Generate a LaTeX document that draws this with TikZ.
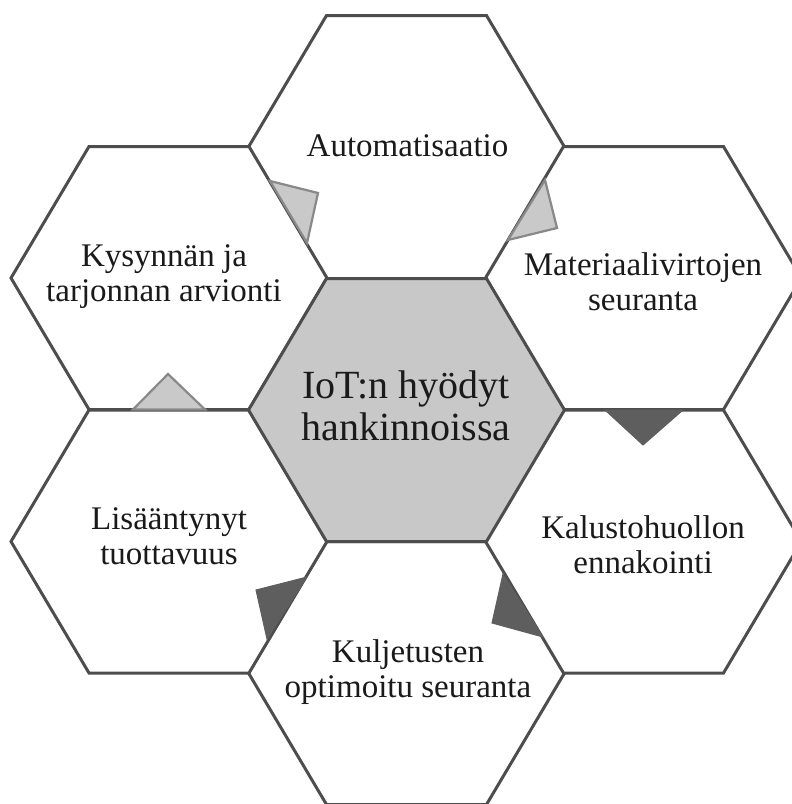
\documentclass[tikz,border=0pt]{standalone}
\usepackage{fontspec}
\setmainfont{Liberation Serif}
\definecolor{hexline}{HTML}{4D4D4D}
\definecolor{corefill}{HTML}{C8C8C8}
\definecolor{flaglightfill}{HTML}{C9C9C9}
\definecolor{flagedge}{HTML}{898989}
\definecolor{flagdarkfill}{HTML}{5E5E5E}
\definecolor{textcol}{HTML}{1A1A1A}
\begin{document}
\begin{tikzpicture}[x=1pt,y=-1pt,
  hexcell/.style={draw=hexline,line width=3pt,line join=miter,fill=white},
  hexcore/.style={hexcell,fill=corefill},
  flaglight/.style={draw=flagedge,fill=flaglightfill,line width=2.2pt,line join=miter},
  flagdark/.style={draw=flagdarkfill,fill=flagdarkfill,line width=1pt,line join=miter},
  cell/.style={align=center,font=\fontsize{33}{35}\selectfont,text=textcol,inner sep=0pt},
  core/.style={cell,font=\fontsize{40}{42}\selectfont}]
\useasboundingbox (0,0) rectangle (792,804);
\clip (0,0) rectangle (792,804);

% centres of the seven cells
\coordinate (hexC)  at (406.5,410);
\coordinate (hexT)  at (406.5,147);
\coordinate (hexB)  at (406.5,673);
\coordinate (hexTL) at (169,278);
\coordinate (hexBL) at (169,541.5);
\coordinate (hexTR) at (643.5,278);
\coordinate (hexBR) at (643.5,541.5);

% outer cells
\foreach \h in {hexT,hexB,hexTL,hexBL,hexTR,hexBR}
  \draw[hexcell,shift={(\h)}] (-158,0) -- (-80,-131.5) -- (80,-131.5)
    -- (158,0) -- (80,131.5) -- (-80,131.5) -- cycle;
% central cell
\draw[hexcore,shift={(hexC)}] (-158,0) -- (-80,-131.5) -- (80,-131.5)
    -- (158,0) -- (80,131.5) -- (-80,131.5) -- cycle;

% small flags on the shared edges
\filldraw[flaglight] (270,181) -- (318,193) -- (307,243) -- cycle;
\filldraw[flaglight] (508,240) -- (545,180) -- (557,228) -- cycle;
\filldraw[flaglight] (133,409.5) -- (168,374) -- (205,409.5) -- cycle;
\filldraw[flagdark] (605,410) -- (643,445) -- (683,410) -- cycle;
\filldraw[flagdark] (503,574) -- (492,623) -- (543,637) -- cycle;
\filldraw[flagdark] (307,577) -- (256,590) -- (267,639) -- cycle;

% labels
\node[core] (core) at (406,405.4) {IoT:n hy\"odyt\\hankinnoissa};
\node[cell] (autom) at (407.5,145.7) {Automatisaatio};
\node[cell] (kysyn) at (164,276.9) {Kysynn\"an ja\\tarjonnan arvionti};
\node[cell] (mater) at (643,281.3) {Materiaalivirtojen\\seuranta};
\node[cell] (lisaa) at (169,536.3) {Lis\"a\"antynyt\\tuottavuus};
\node[cell] (kalus) at (643,544.3) {Kalustohuollon\\ennakointi};
\node[cell] (kulj) at (408,672.4) {Kuljetusten\\optimoitu seuranta};
\end{tikzpicture}
\end{document}
